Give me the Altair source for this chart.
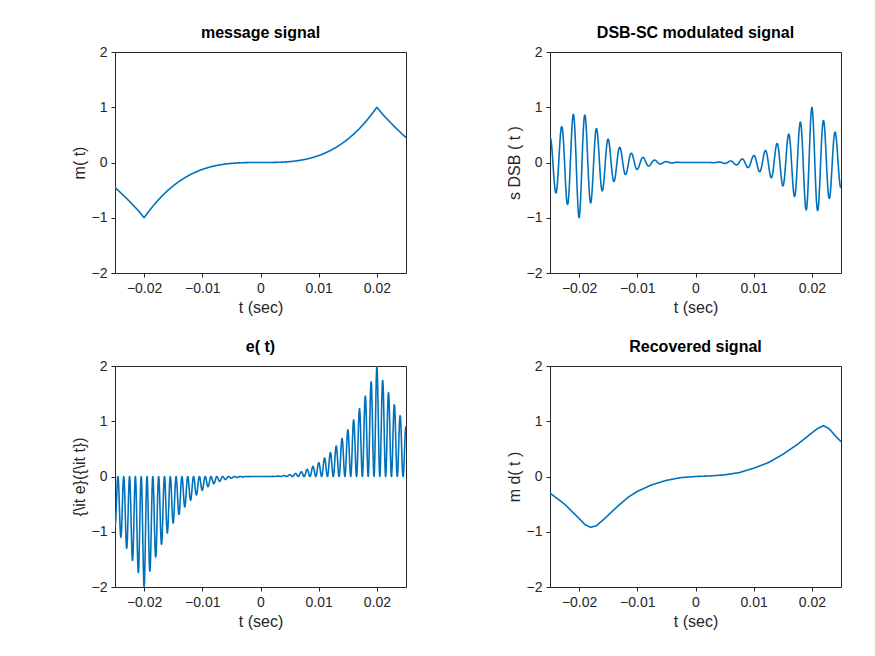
import numpy as np
import pandas as pd
import altair as alt

# message signal, t in seconds (odd symmetric)
msg_t_pos = [0.0, 0.001, 0.002, 0.003, 0.004, 0.005, 0.006, 0.007, 0.008, 0.009, 0.010,
             0.011, 0.012, 0.013, 0.014, 0.015, 0.016, 0.017, 0.018, 0.019, 0.020,
             0.021, 0.022, 0.023, 0.024, 0.025]
msg_v_pos = [0.0, 0.0001, 0.001, 0.0034, 0.008, 0.0156, 0.027, 0.0429, 0.064, 0.0911, 0.125,
             0.1664, 0.216, 0.2746, 0.343, 0.4219, 0.512, 0.6141, 0.729, 0.8574, 1.0,
             0.87, 0.76, 0.65, 0.55, 0.45]

# recovered (low-pass filtered) signal
rec_t = [-0.025, -0.0225, -0.02, -0.019, -0.018, -0.017, -0.0155, -0.0135, -0.0115, -0.01,
         -0.0075, -0.005, -0.0025, 0.0, 0.0025, 0.005, 0.0075, 0.01, 0.0125, 0.015, 0.0175,
         0.02, 0.021, 0.022, 0.023, 0.024, 0.025]
rec_v = [-0.3, -0.5, -0.76, -0.87, -0.92, -0.89, -0.75, -0.55, -0.37, -0.27,
         -0.15, -0.07, -0.02, 0.0, 0.01, 0.03, 0.07, 0.15, 0.25, 0.4, 0.58,
         0.79, 0.87, 0.92, 0.86, 0.74, 0.63]

carrier_hz = 500

msg_t = [-x for x in msg_t_pos[::-1]] + msg_t_pos[1:]
msg_v = [-x for x in msg_v_pos[::-1]] + msg_v_pos[1:]

t = np.linspace(-0.025, 0.025, 2001)
m = np.interp(t, msg_t, msg_v)
s = m * np.cos(2 * np.pi * carrier_hz * t)
e = 2 * s * np.cos(2 * np.pi * carrier_hz * t)
md = np.interp(t, rec_t, rec_v)

FONT = "Liberation Sans"
BLUE = "#0072BD"


def panel(values, title, ytitle):
    df = pd.DataFrame({"t": t, "v": values})
    return alt.Chart(df).mark_line(color=BLUE, strokeWidth=1.6, clip=True, interpolate="monotone").encode(
        x=alt.X("t:Q", title="t (sec)",
                scale=alt.Scale(domain=[-0.025, 0.025], nice=False),
                axis=alt.Axis(values=[-0.02, -0.01, 0, 0.01, 0.02], format=".2~f", grid=False)),
        y=alt.Y("v:Q", title=ytitle,
                scale=alt.Scale(domain=[-2, 2], nice=False),
                axis=alt.Axis(values=[-2, -1, 0, 1, 2], grid=False)),
    ).properties(
        width=291, height=221,
        title=alt.TitleParams(title, fontSize=16, fontWeight="bold", font=FONT, color="black", offset=4),
    )


top = alt.hconcat(panel(m, "message signal", "m( t)"),
                  panel(s, "DSB-SC modulated signal", "s DSB ( t )"), spacing=98)
bottom = alt.hconcat(panel(e, "e( t)", "{\\it e}({\\it t})"),
                     panel(md, "Recovered signal", "m d( t )"), spacing=98)

chart = alt.vconcat(top, bottom, spacing=22).properties(
    padding={"left": 62, "top": 16, "right": 10, "bottom": 5},
    background="white",
).configure_view(stroke="#262626", strokeWidth=1).configure_axis(
    labelFont=FONT, titleFont=FONT, labelFontSize=14, titleFontSize=16,
    labelColor="#262626", titleColor="#262626", titleFontWeight="normal",
    domain=False, tickColor="#262626", tickSize=4, labelPadding=4,
)

chart.save("out.html", embed_options={"renderer": "svg", "actions": False})
